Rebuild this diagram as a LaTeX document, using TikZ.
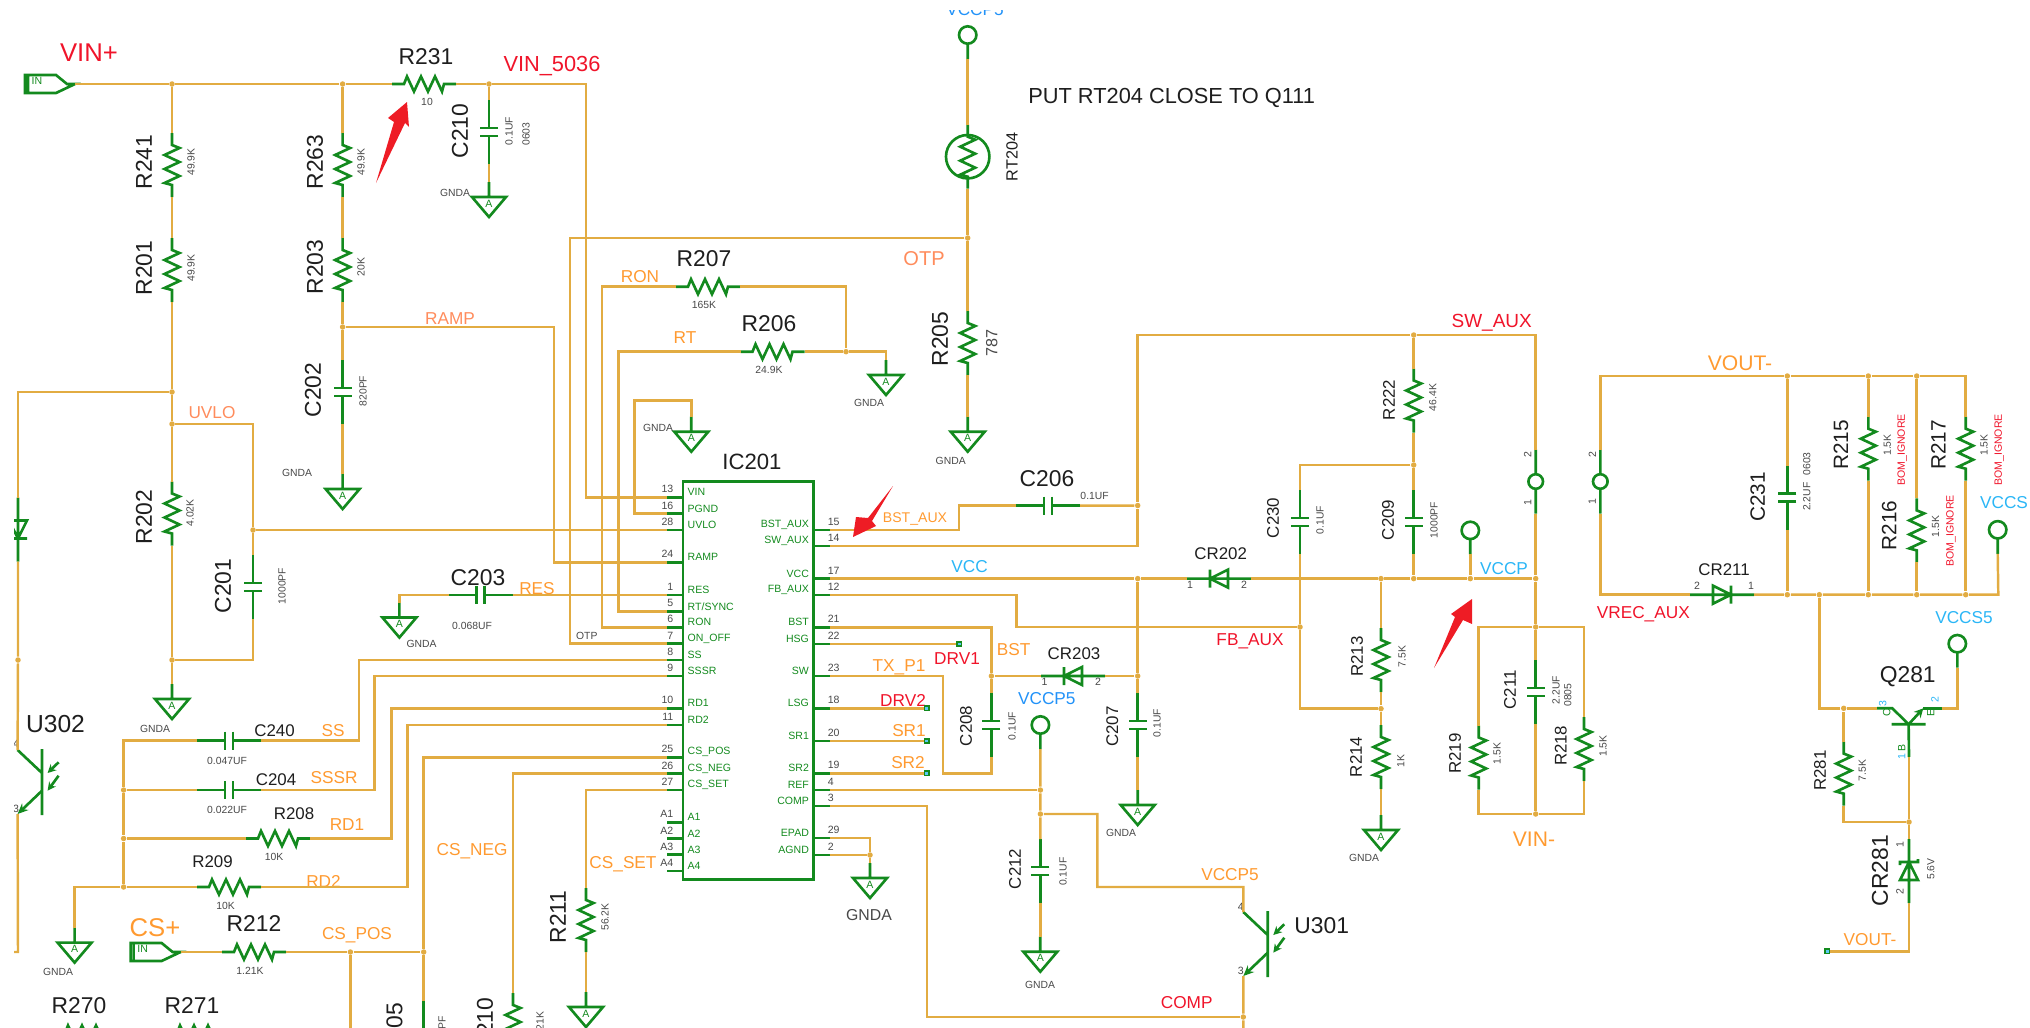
\documentclass[tikz,border=0pt]{standalone}
\usepackage{fontspec}
\setmainfont{Liberation Sans}
\usetikzlibrary{arrows.meta}
\definecolor{wirecol}{HTML}{E2AC42}
\definecolor{partcol}{HTML}{138A1E}
\definecolor{orangecol}{HTML}{FF9A30}
\definecolor{salmoncol}{HTML}{FF8C5C}
\definecolor{redcol}{HTML}{F0142A}
\definecolor{bluecol}{HTML}{2BB6F6}
\definecolor{arrowcol}{HTML}{EE1C25}
\definecolor{inkcol}{HTML}{1E1E1E}
\definecolor{valcol}{HTML}{484848}
\begin{document}
\begin{tikzpicture}[x=0.01cm,y=-0.01cm,
    every node/.style={inner sep=0pt},
    wire/.style={draw=wirecol,line width=0.7pt,line join=miter},
    part/.style={draw=partcol,line width=0.75pt},
    dot/.style={circle,fill=wirecol,minimum size=0.055cm},
    tsq/.style={rectangle,draw=partcol,line width=0.45pt,fill=cyan!65,minimum size=0.045cm},
    vt/.style={rotate=-90},
    up/.style={rotate=90},
    ref/.style={text=inkcol,font=\fontsize{6.5}{7}\selectfont},
    refm/.style={text=inkcol,font=\fontsize{5.9}{7}\selectfont},
    refs/.style={text=inkcol,font=\fontsize{4.8}{6}\selectfont},
    val/.style={text=valcol,font=\fontsize{2.95}{4}\selectfont},
    pn/.style={text=valcol,font=\fontsize{3}{4}\selectfont},
    pm/.style={text=partcol,font=\fontsize{3}{4}\selectfont},
    bom/.style={text=redcol,font=\fontsize{3}{4}\selectfont},
    netl/.style={text=orangecol,font=\fontsize{4.9}{6}\selectfont},
    nets/.style={text=salmoncol,font=\fontsize{4.9}{6}\selectfont},
    netr/.style={text=redcol,font=\fontsize{4.9}{6}\selectfont},
    netb/.style={text=bluecol,font=\fontsize{4.9}{6}\selectfont},
    lg/.style={font=\fontsize{7.3}{8}\selectfont},
    md/.style={font=\fontsize{6}{7}\selectfont},
    pics/res/.style={code={
      \draw[part] (-32,0) coordinate (-a) -- (-20,0) -- (-17,-7.5) -- (-10,7.5) -- (-3,-7.5) -- (4,7.5) -- (11,-7.5) -- (18,7.5) -- (20,0) -- (32,0) coordinate (-b);}},
    pics/cap/.style={code={
      \draw[part] (-32,0) coordinate (-a) -- (-4,0) (-4,-9) -- (-4,9) (4,-9) -- (4,9) (4,0) -- (32,0) coordinate (-b);}},
    pics/dio/.style={code={
      \draw[part] (-32,0) coordinate (-a) -- (32,0) coordinate (-b) (-9,-9) -- (-9,9) (-9,0) -- (9,-9) -- (9,9) -- cycle;}},
    pics/zen/.style={code={
      \draw[part] (-32,0) coordinate (-a) -- (32,0) coordinate (-b) (-12,-9) -- (-9,-9) -- (-9,9) -- (-6,9) (-9,0) -- (9,-9) -- (9,9) -- cycle;}},
    pics/jmp/.style={code={
      \draw[part] (-32,0) coordinate (-a) -- (-7.3,0) (7.3,0) -- (32,0) coordinate (-b) (0,0) circle [radius=7.3];}},
    pics/tp/.style={code={
      \draw[part] (0,0) circle [radius=8.7] (0,8.7) -- (0,24) coordinate (-s);}},
    pics/gnd/.style={code={
      \draw[part] (0,0) coordinate (-t) -- (0,15) (-17,15) -- (17,15) -- (0,35) -- cycle;
      \node[pm] (-x) at (0,21.5) {A};}},
    pics/port/.style={code={
      \draw[part] (8,0) coordinate (-o) -- (0,0) -- (-11,-9) -- (-42,-9) -- (-42,9) -- (-11,9) -- cycle (-39,-9) -- (-39,9);
      \node[pm] (-x) at (-30,-3) {IN};}},
    pics/opto/.style={code={
      \draw[part] (0,-33) -- (0,33) (-24.4,-32) coordinate (-c) -- (0,-9);
      \draw[part,-{Stealth[length=3pt,width=2.6pt]}] (0,8.7) -- (-24.4,32) coordinate (-e);
      \draw[part,-{Stealth[length=2.4pt,width=2.4pt]}] (16.6,-19.7) -- (5.6,-9);
      \draw[part,-{Stealth[length=2.4pt,width=2.4pt]}] (16.6,-6.3) -- (5.6,8.7);}},
    pics/lpin/.style 2 args={code={
      \draw[part] (0,0) -- (-16,0) coordinate (-w);
      \node[pn,anchor=east] (-n) at (-9,-8) {#1};
      \node[pm,anchor=west] (-m) at (4,-5) {#2};}},
    pics/rpin/.style 2 args={code={
      \draw[part] (0,0) -- (16,0) coordinate (-e);
      \node[pn,anchor=west] (-n) at (13.5,-8) {#1};
      \node[pm,anchor=east] (-m) at (-4,-5) {#2};}}]
  \useasboundingbox (0,0) rectangle (2030,1027);
  \clip (14,10) rectangle (2030,1027);

  % input side
  \pic (INvin) at (67,84) {port};
  \node[netr,lg] (tVIN) at (89,53) {VIN+};
  \pic[vt] (R241) at (172,165) {res};
  \node[ref,up] (tR241) at (144,162) {R241};
  \node[val,up] (vR241) at (191,162) {49.9K};
  \pic[vt] (R201) at (172,270) {res};
  \node[ref,up] (tR201) at (144,268) {R201};
  \node[val,up] (vR201) at (191,268) {49.9K};
  \pic[vt] (R263) at (342.6,165) {res};
  \node[ref,up] (tR263) at (315,162) {R263};
  \node[val,up] (vR263) at (361,162) {49.9K};
  \pic[vt] (R203) at (342.6,270) {res};
  \node[ref,up] (tR203) at (315,267) {R203};
  \node[val,up] (vR203) at (361,267) {20K};
  \pic (R231) at (424,84) {res};
  \node[ref] (tR231) at (426,57) {R231};
  \node[val] (vR231) at (427,102) {10};
  \pic[vt] (C210) at (489,132) {cap};
  \node[ref,up] (tC210) at (460,131) {C210};
  \node[val,up] (vC210) at (509,131) {0.1UF};
  \node[val,up] (sC210) at (526,134) {0603};
  \pic (Gc210) at (489,182) {gnd};
  \node[val] (gC210) at (455,193) {GNDA};
  \pic[vt] (C202) at (342.6,392) {cap};
  \node[ref,up] (tC202) at (313,390) {C202};
  \node[val,up] (vC202) at (363,391) {820PF};
  \pic (Gc202) at (342.6,474) {gnd};
  \node[val] (gC202) at (297,473) {GNDA};
  \pic[vt] (R202) at (172,513.5) {res};
  \node[ref,up] (tR202) at (144,517) {R202};
  \node[val,up] (vR202) at (190,513) {4.02K};
  \pic (Gr202) at (172,684) {gnd};
  \node[val] (gR202) at (155,728.6) {GNDA};
  \pic[vt] (C201) at (253,587) {cap};
  \node[ref,up] (tC201) at (223,586) {C201};
  \node[val,up] (vC201) at (282,586) {1000PF};
  \pic[up] (D302) at (18,529.5) {dio};
  \pic (U302) at (42,782) {opto};
  \node[ref,font=\fontsize{7}{8}\selectfont] (tU302) at (55.5,724.5) {U302};
  \node[pn] (n4U302) at (16,743.7) {4};
  \node[pn] (n3U302) at (16,809) {3};
  \node[val] (tOTP) at (586.8,635.7) {OTP};

  % soft start and sense parts
  \pic (C240) at (229,740.7) {cap};
  \node[refs] (tC240) at (274.5,731) {C240};
  \node[val] (vC240) at (227,761) {0.047UF};
  \node[netl] (tSS) at (333,731) {SS};
  \pic (C204) at (229,790) {cap};
  \node[refs] (tC204) at (276,780) {C204};
  \node[val] (vC204) at (227,810) {0.022UF};
  \node[netl] (tSSSR) at (334,778) {SSSR};
  \pic (R208) at (278,838.5) {res};
  \node[refs] (tR208) at (294,813.6) {R208};
  \node[val] (vR208) at (274,857) {10K};
  \node[netl] (tRD1) at (347,825) {RD1};
  \pic (R209) at (229,887) {res};
  \node[refs] (tR209) at (212.5,862) {R209};
  \node[val] (vR209) at (225.5,906) {10K};
  \node[netl] (tRD2) at (323.5,881.5) {RD2};
  \pic (Gr209) at (74.6,927.6) {gnd};
  \node[val] (gR209) at (58,971.6) {GNDA};
  \pic (INcs) at (172.6,952) {port};
  \node[netl,lg] (tCSp) at (155,928) {CS+};
  \pic (R212) at (254,952) {res};
  \node[ref] (tR212) at (254,923.5) {R212};
  \node[val] (vR212) at (250,970.6) {1.21K};
  \node[netl] (tCSPOS) at (357,935) {CS\_POS};
  \node[netl] (tCSNEG) at (472,851) {CS\_NEG};
  \node[netl] (tCSSET) at (623,864) {CS\_SET};
  \pic[vt] (R211) at (586,920) {res};
  \node[ref,up] (tR211) at (558,917) {R211};
  \node[val,up] (vR211) at (605,917) {56.2K};
  \pic (Gr211) at (586,992) {gnd};
  \pic[vt] (C205) at (423.7,1033) {cap};
  \node[ref,up] (tC205) at (394.6,1030) {C205};
  \node[val,up] (vC205) at (442,1034) {1000PF};
  \pic[vt] (R210) at (513,1025) {res};
  \node[ref,up] (tR210) at (485,1025) {R210};
  \node[val,up] (vR210) at (540,1025.6) {1.21K};
  \node[ref] (tR270) at (79,1006) {R270};
  \pic (R270) at (85,1033) {res};
  \node[ref] (tR271) at (192,1006) {R271};
  \pic (R271) at (197,1033) {res};
  \pic (C203) at (480.5,595) {cap};
  \node[ref] (tC203) at (478,578) {C203};
  \node[val] (vC203) at (472,626) {0.068UF};
  \node[netl] (tRES) at (537,588.4) {RES};
  \pic (Gc203) at (399.4,602.5) {gnd};
  \node[val] (gC203) at (421.5,644) {GNDA};
  \node[nets] (tRAMP) at (450,319) {RAMP};
  \node[nets] (tUVLO) at (212,413) {UVLO};
  \node[netr,font=\fontsize{6.2}{7}\selectfont] (tVIN5036) at (552,66) {VIN\_5036};

  % timing resistors
  \pic (R207) at (708,286.7) {res};
  \node[ref] (tR207) at (704,259) {R207};
  \node[val] (vR207) at (704,305) {165K};
  \node[netl] (tRON) at (640,276.7) {RON};
  \pic (R206) at (772.5,351.7) {res};
  \node[ref] (tR206) at (769,324) {R206};
  \node[val] (vR206) at (769,370) {24.9K};
  \node[netl] (tRT) at (685,338) {RT};
  \pic (Gr206) at (886,360) {gnd};
  \node[val] (gR206) at (869,403) {GNDA};
  \pic (Gpg) at (691.3,416.7) {gnd};
  \node[val] (gPG) at (658,428) {GNDA};

  % IC201
  \node[ref,font=\fontsize{6.3}{7}\selectfont] (tIC) at (752,462) {IC201};
  \node[draw=partcol,line width=0.8pt,minimum width=1.307cm,minimum height=3.976cm] (IC201) at (748.3,680.5) {};
  \pic (p13) at (683,497.3) {lpin={13}{VIN}};
  \pic (p16) at (683,513.5) {lpin={16}{PGND}};
  \pic (p28) at (683,530) {lpin={28}{UVLO}};
  \pic (p24) at (683,562.3) {lpin={24}{RAMP}};
  \pic (p1) at (683,595) {lpin={1}{RES}};
  \pic (p5) at (683,611.3) {lpin={5}{RT/SYNC}};
  \pic (p6) at (683,627.3) {lpin={6}{RON}};
  \pic (p7) at (683,643.7) {lpin={7}{ON\_OFF}};
  \pic (p8) at (683,660) {lpin={8}{SS}};
  \pic (p9) at (683,676) {lpin={9}{SSSR}};
  \pic (p10) at (683,708.3) {lpin={10}{RD1}};
  \pic (p11) at (683,725) {lpin={11}{RD2}};
  \pic (p25) at (683,757.3) {lpin={25}{CS\_POS}};
  \pic (p26) at (683,773.7) {lpin={26}{CS\_NEG}};
  \pic (p27) at (683,790) {lpin={27}{CS\_SET}};
  \pic (pA1) at (683,822.3) {lpin={A1}{A1}};
  \pic (pA2) at (683,838.7) {lpin={A2}{A2}};
  \pic (pA3) at (683,854.7) {lpin={A3}{A3}};
  \pic (pA4) at (683,871) {lpin={A4}{A4}};
  \pic (p15) at (813.6,530) {rpin={15}{BST\_AUX}};
  \pic (p14) at (813.6,546) {rpin={14}{SW\_AUX}};
  \pic (p17) at (813.6,578.6) {rpin={17}{VCC}};
  \pic (p12) at (813.6,595) {rpin={12}{FB\_AUX}};
  \pic (p21) at (813.6,627.3) {rpin={21}{BST}};
  \pic (p22) at (813.6,644) {rpin={22}{HSG}};
  \pic (p23) at (813.6,676) {rpin={23}{SW}};
  \pic (p18) at (813.6,708.3) {rpin={18}{LSG}};
  \pic (p20) at (813.6,741) {rpin={20}{SR1}};
  \pic (p19) at (813.6,773.3) {rpin={19}{SR2}};
  \pic (p4) at (813.6,790) {rpin={4}{REF}};
  \pic (p3) at (813.6,806) {rpin={3}{COMP}};
  \pic (p29) at (813.6,838) {rpin={29}{EPAD}};
  \pic (p2) at (813.6,855) {rpin={2}{AGND}};
  \pic (Gic) at (870,863) {gnd};
  \node[val,font=\fontsize{4.5}{5}\selectfont] (gIC) at (869,915) {GNDA};
  \node[netl,font=\fontsize{4}{5}\selectfont] (tBSTA) at (915,519.3) {BST\_AUX};
  \node[netb] (tVCC) at (969.6,566.7) {VCC};
  \node[netl] (tBST) at (1013.6,650) {BST};
  \node[netr] (tDRV1) at (957,659) {DRV1};
  \node[netl] (tTX) at (899,667.7) {TX\_P1};
  \node[netr] (tDRV2) at (903,700) {DRV2};
  \node[netl] (tSR1) at (909,731) {SR1};
  \node[netl] (tSR2) at (908,762.7) {SR2};
  \node[tsq] (sqDRV1) at (959.3,644) {};
  \node[tsq] (sqDRV2) at (926.8,708.3) {};
  \node[tsq] (sqSR1) at (926.8,741) {};
  \node[tsq] (sqSR2) at (926.8,773.3) {};

  % OTP branch
  \node[netb,text=bluecol!80!blue,anchor=base] (tVCCP5t) at (975,15) {VCCP5};
  \pic (TPotp) at (967.7,35) {tp};
  \node[part,circle,minimum size=0.434cm] (RT204c) at (967.7,156.7) {};
  \pic[vt] (RT204) at (967.7,156.7) {res};
  \node[refs,up,font=\fontsize{4.6}{5}\selectfont] (tRT204) at (1012,157) {RT204};
  \node[text=inkcol,font=\fontsize{6.2}{7}\selectfont] (tPUT) at (1171.7,97.5) {PUT RT204 CLOSE TO Q111};
  \node[nets,font=\fontsize{5.7}{6}\selectfont] (tOTPn) at (924,259) {OTP};
  \pic[vt] (R205) at (967.7,343) {res};
  \node[ref,up] (tR205) at (940,339) {R205};
  \node[refs,up,font=\fontsize{4.6}{5}\selectfont,text=valcol] (vR205) at (991.7,343) {787};
  \pic (Gr205) at (967.7,416.7) {gnd};
  \node[val] (gR205) at (950.7,460.7) {GNDA};
  \pic (C206) at (1048,505.7) {cap};
  \node[ref] (tC206) at (1047,479) {C206};
  \node[val] (vC206) at (1094.6,496) {0.1UF};

  % VCC and switching parts
  \pic (CR202) at (1219,578.6) {dio};
  \node[refs] (tCR202) at (1220.7,553.7) {CR202};
  \node[pn] (n1CR202) at (1190,585) {1};
  \node[pn] (n2CR202) at (1244,585) {2};
  \pic (CR203) at (1073,676) {dio};
  \node[refs] (tCR203) at (1074,654) {CR203};
  \node[pn] (n1CR203) at (1044.6,681.7) {1};
  \node[pn] (n2CR203) at (1098,681.7) {2};
  \pic[vt] (C208) at (991.4,725) {cap};
  \node[refs,up] (tC208) at (966,726) {C208};
  \node[val,up] (vC208) at (1012,726) {0.1UF};
  \pic[vt] (C207) at (1137.7,725) {cap};
  \node[refs,up] (tC207) at (1112.3,726.7) {C207};
  \node[val,up] (vC207) at (1157,723) {0.1UF};
  \pic (Gc207) at (1137.7,790) {gnd};
  \node[val] (gC207) at (1121,833) {GNDA};
  \node[netb,text=bluecol!80!blue] (tVCCP5) at (1046.8,698.3) {VCCP5};
  \pic (TPref) at (1040.4,725) {tp};
  \pic[vt] (C212) at (1040.3,871) {cap};
  \node[refs,up] (tC212) at (1015,869) {C212};
  \node[val,up] (vC212) at (1063,871.7) {0.1UF};
  \pic (Gc212) at (1040.3,936.7) {gnd};
  \node[val] (gC212) at (1040,985) {GNDA};
  \pic (U301) at (1267.7,944) {opto};
  \node[ref] (tU301) at (1321.7,926) {U301};
  \node[pn] (n4U301) at (1240.7,906.7) {4};
  \node[pn] (n3U301) at (1240.7,971) {3};
  \node[netl] (tVCCP5o) at (1230,875) {VCCP5};
  \node[netr] (tCOMP) at (1186.7,1003) {COMP};

  % feedback
  \pic[vt] (R222) at (1413.7,400.5) {res};
  \node[refs,up] (tR222) at (1389,400) {R222};
  \node[val,up] (vR222) at (1432.7,397.6) {46.4K};
  \pic[vt] (C230) at (1300,522) {cap};
  \node[refs,up] (tC230) at (1273,518) {C230};
  \node[val,up] (vC230) at (1320,520) {0.1UF};
  \pic[vt] (C209) at (1413.7,522) {cap};
  \node[refs,up] (tC209) at (1388,520) {C209};
  \node[val,up] (vC209) at (1434,520) {1000PF};
  \pic (TPvccp) at (1470.3,530.4) {tp};
  \node[netb] (tVCCP) at (1504,568.6) {VCCP};
  \node[netr,font=\fontsize{5.4}{6}\selectfont] (tSWAUX) at (1491.7,323) {SW\_AUX};
  \node[netr] (tFBAUX) at (1250,641.7) {FB\_AUX};
  \pic[vt] (R213) at (1381,660) {res};
  \node[refs,up] (tR213) at (1357,656.7) {R213};
  \node[val,up] (vR213) at (1402,656.7) {7.5K};
  \pic[vt] (R214) at (1381,757) {res};
  \node[refs,up] (tR214) at (1356,757) {R214};
  \node[val,up] (vR214) at (1400.7,761) {1K};
  \pic (Gr214) at (1381,815) {gnd};
  \node[val] (gR214) at (1364,858) {GNDA};
  \pic[vt] (J201) at (1535.7,481.5) {jmp};
  \node[pn,up] (n2J201) at (1527.7,455) {2};
  \node[pn,up] (n1J201) at (1527.7,503) {1};
  \pic[vt] (C211) at (1535.7,692) {cap};
  \node[refs,up] (tC211) at (1510,690) {C211};
  \node[val,up] (vC211) at (1556,690) {2.2UF};
  \node[val,up] (sC211) at (1567.7,695) {0805};
  \pic[vt] (R219) at (1478.7,757.5) {res};
  \node[refs,up] (tR219) at (1455,753.5) {R219};
  \node[val,up] (vR219) at (1497,753.5) {1.5K};
  \pic[vt] (R218) at (1584,749) {res};
  \node[refs,up] (tR218) at (1560.7,745.8) {R218};
  \node[val,up] (vR218) at (1603,746) {1.5K};
  \node[netl,md] (tVINm) at (1534,839.6) {VIN-};

  % secondary side
  \node[netl,md] (tVOUTt) at (1740,363.7) {VOUT-};
  \pic[vt] (J202) at (1600.3,481.5) {jmp};
  \node[pn,up] (n2J202) at (1592.3,455) {2};
  \node[pn,up] (n1J202) at (1592.3,502) {1};
  \pic[rotate=180] (CR211) at (1722,594.7) {dio};
  \node[refs] (tCR211) at (1724,570) {CR211};
  \node[pn] (n2CR211) at (1697,586) {2};
  \node[pn] (n1CR211) at (1751,586) {1};
  \node[netr] (tVREC) at (1643.3,614) {VREC\_AUX};
  \pic[vt] (C231) at (1787.3,497.8) {cap};
  \node[refm,up] (tC231) at (1757.7,497) {C231};
  \node[val,up] (vC231) at (1806.7,481.6) {2.2UF\hspace{1.2pt} 0603};
  \pic[vt] (R215) at (1868.3,448.7) {res};
  \node[refm,up] (tR215) at (1841,445) {R215};
  \node[val,up] (vR215) at (1887.3,445) {1.5K};
  \node[bom,up] (bR215) at (1902.3,450) {BOM\_IGNORE};
  \pic[vt] (R216) at (1916.7,530.4) {res};
  \node[refm,up] (tR216) at (1889.3,525.7) {R216};
  \node[val,up] (vR216) at (1935.7,526.5) {1.5K};
  \node[bom,up] (bR216) at (1951,531) {BOM\_IGNORE};
  \pic[vt] (R217) at (1965.7,448.7) {res};
  \node[refm,up] (tR217) at (1938.3,445) {R217};
  \node[val,up] (vR217) at (1984,445) {1.5K};
  \node[bom,up] (bR217) at (1999.3,450) {BOM\_IGNORE};
  \pic (TPvccs) at (1997.7,529.8) {tp};
  \node[netb] (tVCCS) at (2004,503) {VCCS};
  \pic (TPvccs5) at (1957.3,643.7) {tp};
  \node[netb] (tVCCS5) at (1964,617.5) {VCCS5};
  \node[ref] (tQ281) at (1907.7,676.7) {Q281};
  \coordinate (Q281c) at (1877,708.3);
  \coordinate (Q281e) at (1941.7,708.3);
  \coordinate (Q281b) at (1909,757);
  \coordinate (Q281m) at (1908.6,724.3);
  \draw[part] (Q281c) -- (1892.3,708.3) -- (Q281m) (1891.7,724.3) -- (1925.7,724.3) (Q281m) -- (Q281b);
  \draw[part,-{Stealth[length=2.6pt,width=2.6pt]}] (Q281m) -- (1923.3,708.3);
  \draw[part] (1923.3,708.3) -- (Q281e);
  \node[pm,up] (mCQ281) at (1886.7,713) {C};
  \node[pm,up,text=bluecol] (n3Q281) at (1882.7,704) {3};
  \node[pm,up] (mEQ281) at (1930.7,713) {E};
  \node[pm,up,text=bluecol] (n2Q281) at (1935,700) {2};
  \node[pm,up] (mBQ281) at (1901.7,747.7) {B};
  \node[pm,up,text=bluecol] (n1Q281) at (1901.7,756.7) {1};
  \pic[vt] (R281) at (1843.7,773.6) {res};
  \node[refs,up] (tR281) at (1820,770.6) {R281};
  \node[val,up] (vR281) at (1862.3,770.6) {7.5K};
  \pic[vt] (CR281) at (1909,871) {zen};
  \node[ref,up] (tCR281) at (1880,870.6) {CR281};
  \node[pn,up] (n1CR281) at (1900,845) {1};
  \node[pn,up] (n2CR281) at (1900,892) {2};
  \node[val,up] (vCR281) at (1930.7,869) {5.6V};
  \node[tsq] (sqVOUT) at (1827.3,951.4) {};
  \node[netl] (tVOUTb) at (1870,940) {VOUT-};

  % junctions
  \node[dot] (j1) at (172,84) {};
  \node[dot] (j2) at (342.6,84) {};
  \node[dot] (j3) at (489,84) {};
  \node[dot] (jRamp) at (342.6,327) {};
  \node[dot] (jUa) at (172,392) {};
  \node[dot] (jUb) at (172,424) {};
  \node[dot] (jUc) at (253,530) {};
  \node[dot] (jUd) at (172,660) {};
  \node[dot] (jUe) at (18,660) {};
  \node[dot] (jSb) at (123.6,790) {};
  \node[dot] (jSc) at (123.6,838.5) {};
  \node[dot] (jSd) at (123.6,887) {};
  \node[dot] (jCa) at (350.4,952) {};
  \node[dot] (jCb) at (423.7,952) {};
  \node[dot] (jOtp) at (967.7,238) {};
  \node[dot] (jRt) at (846,351.7) {};
  \node[dot] (jIc) at (870,855) {};
  \node[dot] (jSw) at (1137.7,505.5) {};
  \node[dot] (jVa) at (1137.7,578.6) {};
  \node[dot] (jVb) at (1137.7,676) {};
  \node[dot] (jBst) at (991.4,676) {};
  \node[dot] (jFb) at (1300,627) {};
  \node[dot] (jVc) at (1381,578.6) {};
  \node[dot] (jVd) at (1413.7,578.6) {};
  \node[dot] (jVe) at (1470.3,578.6) {};
  \node[dot] (jVf) at (1535.7,578.6) {};
  \node[dot] (jTa) at (1413.7,335) {};
  \node[dot] (jTb) at (1413.7,465) {};
  \node[dot] (jFc) at (1381,708.7) {};
  \node[dot] (jVg) at (1535.7,627) {};
  \node[dot] (jVh) at (1535.7,814) {};
  \node[dot] (jRa) at (1040.4,790) {};
  \node[dot] (jRb) at (1040.4,814) {};
  \node[dot] (jComp) at (1243.3,1017) {};
  \node[dot] (jOa) at (1787.3,376) {};
  \node[dot] (jOb) at (1868.3,376) {};
  \node[dot] (jOc) at (1916.7,376) {};
  \node[dot] (jPa) at (1787.3,594.7) {};
  \node[dot] (jPb) at (1819.3,594.7) {};
  \node[dot] (jPc) at (1868.3,594.7) {};
  \node[dot] (jPd) at (1916.7,594.7) {};
  \node[dot] (jPe) at (1965.7,594.7) {};
  \node[dot] (jQa) at (1843.7,708.3) {};
  \node[dot] (jQb) at (1909,822) {};

  % corners
  \coordinate (c13) at (586,84);
  \coordinate (c24) at (554,327);
  \coordinate (cOtp) at (570,238);
  \coordinate (cRon) at (602,286.7);
  \coordinate (cRt) at (618.3,351.7);
  \coordinate (c16) at (634.3,400.7);
  \coordinate (c8) at (359,740.7);
  \coordinate (c9) at (374.7,790);
  \coordinate (c10) at (391.6,838.5);
  \coordinate (c11) at (407.6,887);
  \coordinate (cLeft) at (18,392);
  \coordinate (cStub) at (14,952);
  \coordinate (cDown) at (18,952);
  \coordinate (cPos) at (350.4,1040);
  \coordinate (c15) at (959,505.7);
  \coordinate (cSwa) at (1137.7,335);
  \coordinate (cSwb) at (1535.7,335);
  \coordinate (c12) at (1016.4,595);
  \coordinate (c21) at (991.4,627.3);
  \coordinate (c19) at (942.9,773.3);
  \coordinate (cFb) at (1097.3,814);
  \coordinate (cVp) at (1243.3,887);
  \coordinate (c3) at (926.8,806);
  \coordinate (cEnd) at (1243.3,1040);
  \coordinate (cTl) at (1600.3,376);
  \coordinate (cTr) at (1965.7,376);
  \coordinate (cBr) at (1998.3,594.7);

  % wires
  \draw[wire] (INvin-o) -- (j1) -- (j2) -- (R231-a);
  \draw[wire] (R231-b) -- (j3) -- (c13) |- (p13-w);
  \draw[wire] (j3) -- (C210-a);
  \draw[wire] (C210-b) -- (Gc210-t);
  \draw[wire] (j1) -- (R241-a);
  \draw[wire] (R241-b) -- (R201-a);
  \draw[wire] (R201-b) -- (jUa) -- (jUb) -- (R202-a);
  \draw[wire] (R202-b) -- (jUd) -- (Gr202-t);
  \draw[wire] (jUa) -- (cLeft) -- (D302-b);
  \draw[wire] (D302-a) -- (jUe) -- (U302-c);
  \draw[wire] (U302-e) -- (cDown) -- (cStub);
  \draw[wire] (jUb) -| (jUc);
  \draw[wire] (jUc) -- (C201-a);
  \draw[wire] (C201-b) |- (jUd);
  \draw[wire] (jUc) -- (p28-w);
  \draw[wire] (j2) -- (R263-a);
  \draw[wire] (R263-b) -- (R203-a);
  \draw[wire] (R203-b) -- (jRamp) -- (C202-a);
  \draw[wire] (C202-b) -- (Gc202-t);
  \draw[wire] (jRamp) -- (c24) |- (p24-w);
  \draw[wire] (jOtp) -- (cOtp) |- (p7-w);
  \draw[wire] (R207-a) -- (cRon) |- (p6-w);
  \draw[wire] (R207-b) -| (jRt);
  \draw[wire] (R206-a) -- (cRt) |- (p5-w);
  \draw[wire] (R206-b) -- (jRt) -| (Gr206-t);
  \draw[wire] (Gpg-t) |- (c16) |- (p16-w);
  \draw[wire] (C203-b) -- (p1-w);
  \draw[wire] (C203-a) -| (Gc203-t);
  \draw[wire] (C240-b) -- (c8) |- (p8-w);
  \draw[wire] (C204-b) -- (c9) |- (p9-w);
  \draw[wire] (R208-b) -- (c10) |- (p10-w);
  \draw[wire] (R209-b) -- (c11) |- (p11-w);
  \draw[wire] (C240-a) -| (jSb);
  \draw[wire] (jSb) -- (C204-a);
  \draw[wire] (jSb) -- (jSc) -- (jSd);
  \draw[wire] (jSc) -- (R208-a);
  \draw[wire] (jSd) -- (R209-a);
  \draw[wire] (jSd) -| (Gr209-t);
  \draw[wire] (INcs-o) -- (R212-a);
  \draw[wire] (R212-b) -- (jCa) -- (jCb) -- (C205-a);
  \draw[wire] (jCa) -- (cPos);
  \draw[wire] (jCb) |- (p25-w);
  \draw[wire] (R210-a) |- (p26-w);
  \draw[wire] (R211-a) |- (p27-w);
  \draw[wire] (R211-b) -- (Gr211-t);
  \draw[wire] (p15-e) -| (c15) -- (C206-a);
  \draw[wire] (C206-b) -- (jSw);
  \draw[wire] (p14-e) -| (jSw);
  \draw[wire] (jSw) -- (cSwa) -- (jTa) -- (cSwb) -- (J201-a);
  \draw[wire] (jTa) -- (R222-a);
  \draw[wire] (R222-b) -- (jTb) -- (C209-a);
  \draw[wire] (C209-b) -- (jVd);
  \draw[wire] (jTb) -| (C230-a);
  \draw[wire] (C230-b) -- (jFb);
  \draw[wire] (jFb) |- (jFc);
  \draw[wire] (p17-e) -- (jVa) -- (CR202-a);
  \draw[wire] (CR202-b) -- (jVc) -- (jVd) -- (jVe) -- (jVf);
  \draw[wire] (jVe) -- (TPvccp-s);
  \draw[wire] (J201-b) -- (jVf) -- (jVg) -- (C211-a);
  \draw[wire] (C211-b) -- (jVh);
  \draw[wire] (jVg) -| (R219-a);
  \draw[wire] (jVg) -| (R218-a);
  \draw[wire] (R219-b) |- (jVh);
  \draw[wire] (R218-b) |- (jVh);
  \draw[wire] (jVc) -- (R213-a);
  \draw[wire] (R213-b) -- (jFc) -- (R214-a);
  \draw[wire] (R214-b) -- (Gr214-t);
  \draw[wire] (jVa) -- (jVb) -- (C207-a);
  \draw[wire] (C207-b) -- (Gc207-t);
  \draw[wire] (p12-e) -- (c12) |- (jFb);
  \draw[wire] (p21-e) -- (c21) -- (jBst) -- (C208-a);
  \draw[wire] (C208-b) |- (c19) |- (p23-e);
  \draw[wire] (jBst) -- (CR203-a);
  \draw[wire] (CR203-b) -- (jVb);
  \draw[wire] (p22-e) -- (sqDRV1);
  \draw[wire] (p18-e) -- (sqDRV2);
  \draw[wire] (p20-e) -- (sqSR1);
  \draw[wire] (p19-e) -- (sqSR2);
  \draw[wire] (p29-e) -| (jIc);
  \draw[wire] (p2-e) -- (jIc) -- (Gic-t);
  \draw[wire] (p4-e) -- (jRa);
  \draw[wire] (TPref-s) -- (jRa) -- (jRb) -- (C212-a);
  \draw[wire] (C212-b) -- (Gc212-t);
  \draw[wire] (jRb) -- (cFb) |- (cVp) -- (U301-c);
  \draw[wire] (p3-e) -- (c3) |- (jComp);
  \draw[wire] (U301-e) -- (jComp) -- (cEnd);
  \draw[wire] (TPotp-s) -- (RT204-a);
  \draw[wire] (RT204-b) -- (jOtp) -- (R205-a);
  \draw[wire] (R205-b) -- (Gr205-t);
  \draw[wire] (J202-a) -- (cTl) -- (jOa) -- (jOb) -- (jOc) -- (cTr) -- (R217-a);
  \draw[wire] (J202-b) |- (CR211-b);
  \draw[wire] (CR211-a) -- (jPa) -- (jPb) -- (jPc) -- (jPd) -- (jPe) -- (cBr) -- (TPvccs-s);
  \draw[wire] (jOa) -- (C231-a);
  \draw[wire] (C231-b) -- (jPa);
  \draw[wire] (jOb) -- (R215-a);
  \draw[wire] (R215-b) -- (jPc);
  \draw[wire] (jOc) -- (R216-a);
  \draw[wire] (R216-b) -- (jPd);
  \draw[wire] (R217-b) -- (jPe);
  \draw[wire] (jPb) |- (jQa);
  \draw[wire] (jQa) -- (Q281c);
  \draw[wire] (jQa) -- (R281-a);
  \draw[wire] (R281-b) |- (jQb);
  \draw[wire] (Q281e) -| (TPvccs5-s);
  \draw[wire] (Q281b) -- (jQb) -- (CR281-a);
  \draw[wire] (CR281-b) |- (sqVOUT);

  % red marks
  \fill[arrowcol] (376,183) -- (394,122) -- (388,118) -- (407,102) -- (409,127) -- (405,123) -- cycle;
  \fill[arrowcol] (893,486) -- (868,518) -- (856,517) -- (853,537) -- (876,526) -- (872,521) -- cycle;
  \fill[arrowcol] (1434,668) -- (1455,617) -- (1451,614) -- (1472,599) -- (1472,624) -- (1463,620) -- cycle;
\end{tikzpicture}
\end{document}
